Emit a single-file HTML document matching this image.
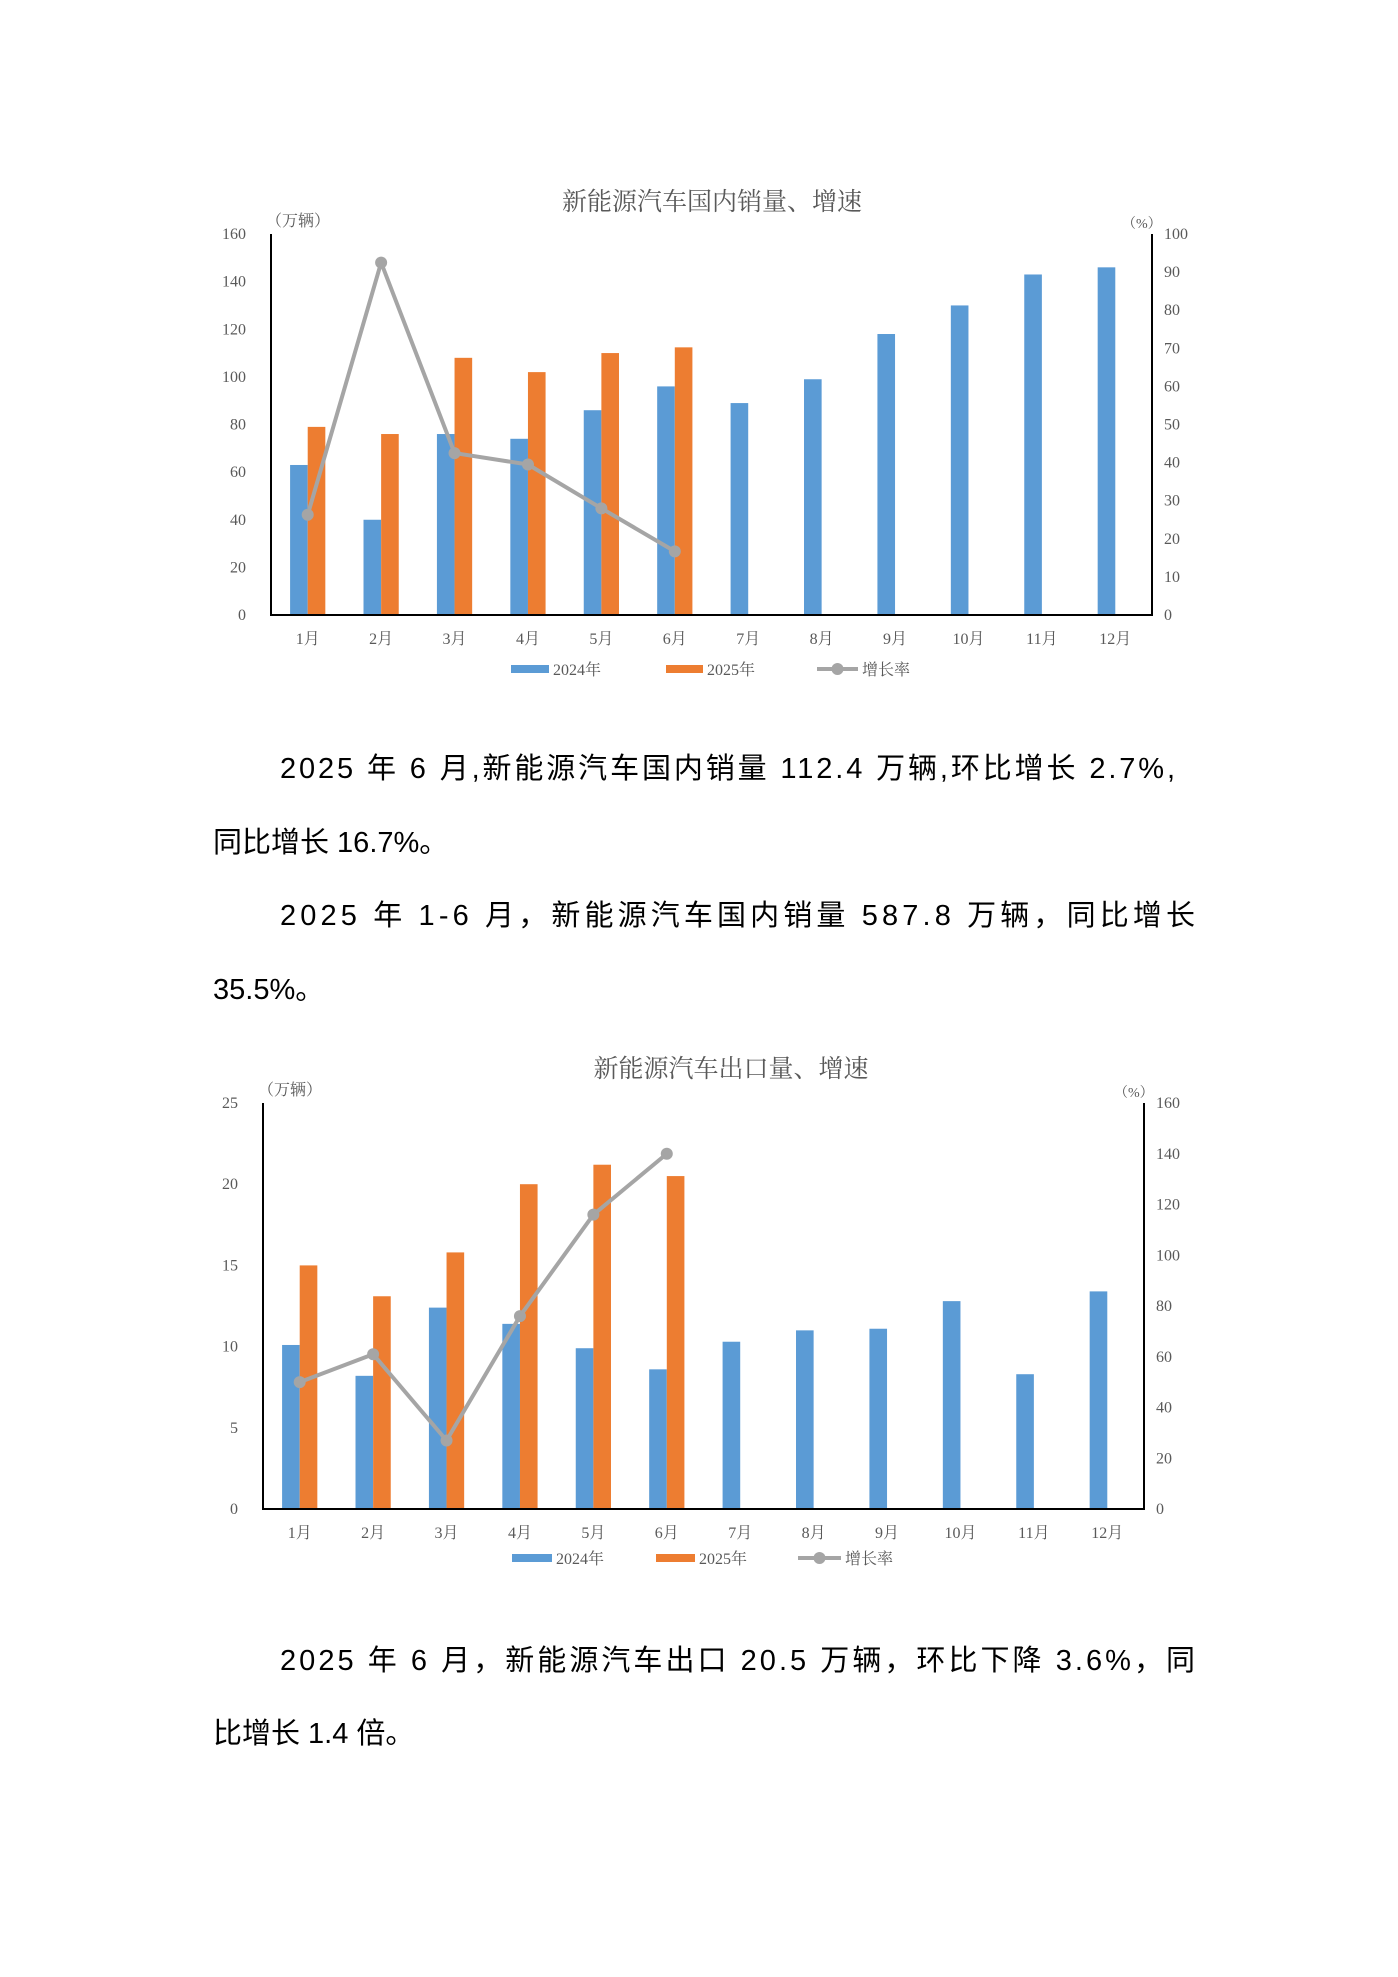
<!DOCTYPE html>
<html><head><meta charset="utf-8"><style>
html,body{margin:0;padding:0;background:#fff;}
svg{display:block;}
.t{font-family:"Liberation Serif","Noto Serif CJK SC",serif;fill:#595959;}
.p{font-family:"Liberation Sans","Noto Sans CJK SC",sans-serif;fill:#000;font-size:29px;}
</style></head><body>
<svg id="page" width="1398" height="1977" viewBox="0 0 1398 1977" xmlns="http://www.w3.org/2000/svg">
<g id="c1"></g>
<g id="c2"></g>
<text class="p" x="280" y="778" textLength="895" lengthAdjust="spacing">2025 年 6 月,新能源汽车国内销量 112.4 万辆,环比增长 2.7%,</text>
<text class="p" x="213" y="852">同比增长 16.7%。</text>
<text class="p" x="280" y="925" textLength="915" lengthAdjust="spacing">2025 年 1-6 月，新能源汽车国内销量 587.8 万辆，同比增长</text>
<text class="p" x="213" y="999">35.5%。</text>
<text class="p" x="280" y="1670" textLength="915" lengthAdjust="spacing">2025 年 6 月，新能源汽车出口 20.5 万辆，环比下降 3.6%，同</text>
<text class="p" x="213" y="1743">比增长 1.4 倍。</text>
</svg>
<script>
const months = ["1月","2月","3月","4月","5月","6月","7月","8月","9月","10月","11月","12月"];
const dom2024 = [63,40,76,74,86,96,89,99,118,130,143,146];
const dom2025 = [79,76,108,102,110,112.4];
const domGrowth = [26.3,92.5,42.5,39.5,28,16.7];
const domLeftTicks = [0,20,40,60,80,100,120,140,160];
const domRightTicks = [0,10,20,30,40,50,60,70,80,90,100];
const exp2024 = [10.1,8.2,12.4,11.4,9.9,8.6,10.3,11.0,11.1,12.8,8.3,13.4];
const exp2025 = [15.0,13.1,15.8,20.0,21.2,20.5];
const expGrowth = [50,61,27,76,116,140];
const expLeftTicks = [0,5,10,15,20,25];
const expRightTicks = [0,20,40,60,80,100,120,140,160];
const NS="http://www.w3.org/2000/svg";
function mk(parent,tag,attrs,text){const e=document.createElementNS(NS,tag);for(const k in attrs)e.setAttribute(k,attrs[k]);if(text!==undefined)e.textContent=text;parent.appendChild(e);return e;}
function chart(g,o){
  const L=o.left,R=o.right,B=o.base,T=o.top;
  const yL=v=>B-(v/o.lMax)*(B-T);
  const yR=v=>B-(v/o.rMax)*(B-T);
  const band=(R-L)/months.length;
  const xc=i=>L+band*(i+0.5);
  const bw=band*0.24;
  const title=mk(g,"text",{x:o.titleX,y:o.titleY,"text-anchor":"middle","font-size":25,class:"t",fill:"#404040"},o.title);
  
  
  o.lTicks.forEach(v=>{const t=mk(g,"text",{x:L-25,y:yL(v)+5,"text-anchor":"end","font-size":16,class:"t"},String(v));
    
    });
  o.rTicks.forEach(v=>{const t=mk(g,"text",{x:R+12,y:yR(v)+5,"text-anchor":"start","font-size":16,class:"t"},String(v));
    
    });
  const u1=mk(g,"text",{x:L-5,y:T-8,"font-size":16,class:"t"},"（万辆）");
  
  
  const u2=mk(g,"text",{x:R-30,y:T-6,"font-size":14,class:"t"},"（%）");
  
  
  o.a.forEach((v,i)=>{const r=mk(g,"rect",{x:xc(i)-bw,y:yL(v),width:bw,height:B-yL(v),fill:"#5b9bd5"});
    
    });
  o.b.forEach((v,i)=>{const r=mk(g,"rect",{x:xc(i),y:yL(v),width:bw,height:B-yL(v),fill:"#ed7d31"});
    
    });
  const ax=mk(g,"path",{d:`M${L} ${T}V${B}H${R}V${T}`,stroke:"#000","stroke-width":2,fill:"none"});
  
  
  const pts=o.g.map((v,i)=>xc(i)+","+yR(v)).join(" ");
  const ln=mk(g,"polyline",{points:pts,stroke:"#a5a5a5","stroke-width":4,fill:"none","stroke-linejoin":"round"});
  
  
  o.g.forEach((v,i)=>{const c=mk(g,"circle",{cx:xc(i),cy:yR(v),r:6,fill:"#a5a5a5"});
    
    });
  months.forEach((m,i)=>{const t=mk(g,"text",{x:xc(i),y:o.monthY,"text-anchor":"middle","font-size":16,class:"t"},m);
    
    });
  const ly=o.legY, lg=o.leg;
  const s1=mk(g,"rect",{x:lg[0],y:ly-4,width:lg[1]-lg[0],height:8,fill:"#5b9bd5"});
  
  
  const l1=mk(g,"text",{x:lg[1]+4,y:ly+6,"font-size":16,class:"t"},"2024年");
  
  
  const s2=mk(g,"rect",{x:lg[2],y:ly-4,width:lg[3]-lg[2],height:8,fill:"#ed7d31"});
  
  
  const l2=mk(g,"text",{x:lg[3]+4,y:ly+6,"font-size":16,class:"t"},"2025年");
  
  
  const s3=mk(g,"line",{x1:lg[4],y1:ly,x2:lg[5],y2:ly,stroke:"#a5a5a5","stroke-width":4});
  
  
  const s3c=mk(g,"circle",{cx:(lg[4]+lg[5])/2,cy:ly,r:6,fill:"#a5a5a5"});
  
  
  const l3=mk(g,"text",{x:lg[5]+4,y:ly+6,"font-size":16,class:"t"},"增长率");
  
  
}
chart(document.getElementById("c1"),{left:271,right:1152,base:615,top:234,lMax:160,rMax:100,
  a:dom2024,b:dom2025,g:domGrowth,lTicks:domLeftTicks,rTicks:domRightTicks,
  title:"新能源汽车国内销量、增速",titleX:712,titleY:210,monthY:644,legY:669,leg:[511,549,666,703,817,858]});
chart(document.getElementById("c2"),{left:263,right:1144,base:1509,top:1103,lMax:25,rMax:160,
  a:exp2024,b:exp2025,g:expGrowth,lTicks:expLeftTicks,rTicks:expRightTicks,
  title:"新能源汽车出口量、增速",titleX:731,titleY:1077,monthY:1538,legY:1558,leg:[512,552,656,695,798,841]});
</script>
</body></html>
